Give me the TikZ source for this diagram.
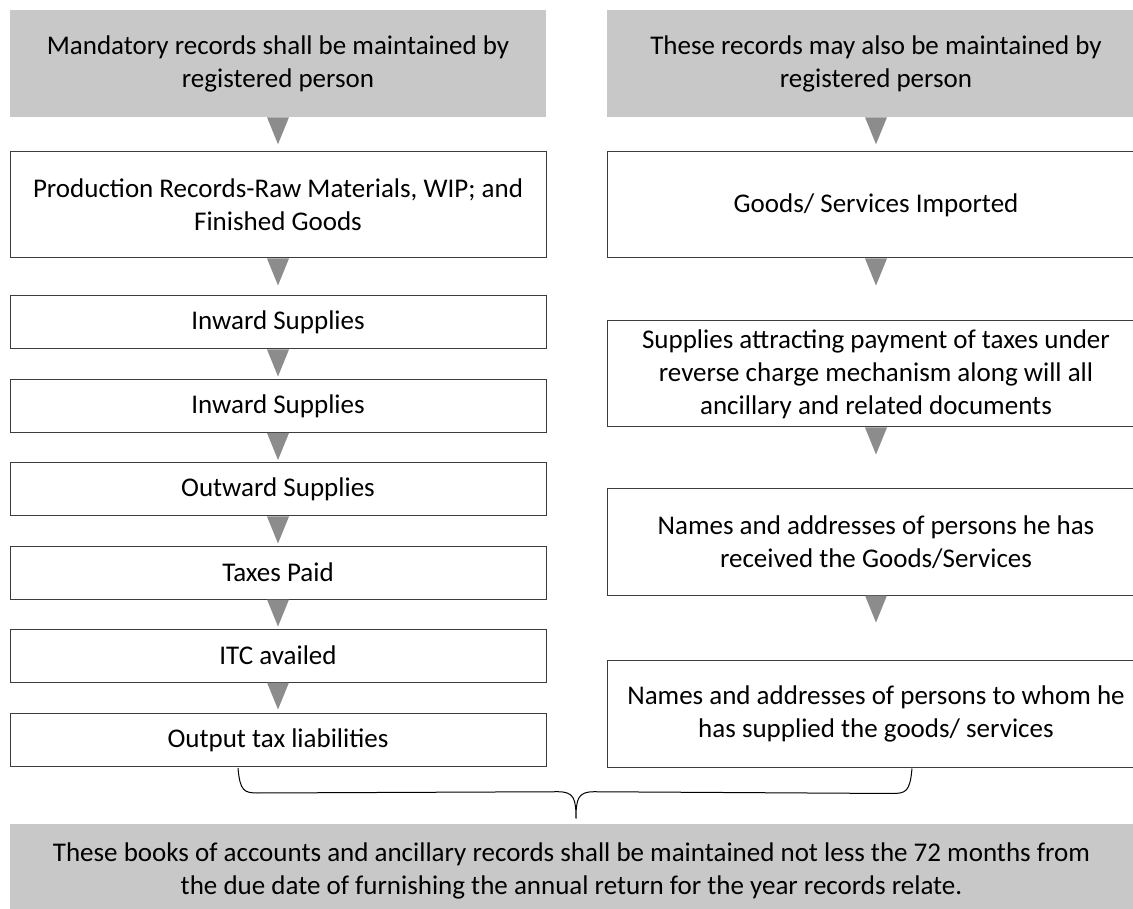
\documentclass[tikz,border=0pt]{standalone}
\usepackage{fontspec}
\setmainfont{Carlito}
\usetikzlibrary{calc}
\definecolor{hdrgray}{RGB}{200,200,200}
\definecolor{arrgray}{RGB}{140,140,140}
\definecolor{edgegray}{RGB}{60,60,60}
\newcommand{\px}{0.75pt}
% downward gray triangle below a node
\newcommand{\downtri}[1]{%
  \fill[arrgray] ($(#1.south)+(-11,0)$) -- ($(#1.south)+(11,0)$) -- ($(#1.south)+(0,27)$) -- cycle;}

\begin{document}
\begin{tikzpicture}[x=0.75pt, y=-0.75pt,
  every node/.style={font=\fontsize{20.25pt}{24.75pt}\selectfont, align=center, inner sep=0pt},
  hdr/.style={fill=hdrgray, minimum height=107*\px},
  lbox/.style={draw=edgegray, line width=\px, minimum width=536*\px},
  rbox/.style={draw=edgegray, line width=\px, minimum width=538*\px, minimum height=106*\px}]
  \clip (0,0) rectangle (1133,909);

  % --- left column ---
  \node[hdr, minimum width=536*\px] (hl) at (278,63.5) {Mandatory records shall be maintained by\\registered person};
  \node[lbox, minimum height=106*\px] (l1) at (278,205) {Production Records-Raw Materials, WIP; and\\Finished Goods};
  \node[lbox, minimum height=53*\px] (l2) at (278,322.5) {Inward Supplies};
  \node[lbox, minimum height=53*\px] (l3) at (278,406) {Inward Supplies};
  \node[lbox, minimum height=53*\px] (l4) at (278,489.5) {Outward Supplies};
  \node[lbox, minimum height=53*\px] (l5) at (278,572.5) {Taxes Paid};
  \node[lbox, minimum height=53*\px] (l6) at (278,655.5) {ITC availed};
  \node[lbox, minimum height=53*\px] (l7) at (278,740) {Output tax liabilities};

  % --- right column ---
  \node[hdr, minimum width=538*\px] (hr) at (876,63.5) {These records may also be maintained by\\registered person};
  \node[rbox] (r1) at (876,205) {Goods/ Services Imported};
  \node[rbox] (r2) at (876,374) {Supplies attracting payment of taxes under\\reverse charge mechanism along will all\\ancillary and related documents};
  \node[rbox] (r3) at (876,542) {Names and addresses of persons he has\\received the Goods/Services};
  \node[rbox, minimum height=107*\px] (r4) at (876,713.5) {Names and addresses of persons to whom he\\has supplied the goods/ services};

  % --- arrows ---
  \foreach \n in {hl,l1,l2,l3,l4,l5,l6,hr,r1,r2,r3} {
    \downtri{\n}
  }

  % --- bottom note ---
  \node[fill=hdrgray, minimum width=1123*\px, minimum height=93*\px] (bot) at (571.5,870.5)
    {These books of accounts and ancillary records shall be maintained not less the 72 months from\\the due date of furnishing the annual return for the year records relate.};

  % --- brace ---
  \coordinate (bL) at ($(l7.south)+(-40,1)$);
  \coordinate (bR) at ($(r4.south)+(36,1)$);
  \coordinate (tip) at ($(bot.north)+(4.5,-5)$);
  \draw[line width=\px] (bL) .. controls ($(bL)+(2,23)$) and ($(bL)+(6,25)$) .. ($(bL)+(20,25)$)
    -- ($(tip)+(-18,-27)$) .. controls ($(tip)+(-2,-27)$) and ($(tip)+(0,-20)$) .. (tip)
    .. controls ($(tip)+(0,-20)$) and ($(tip)+(2,-27)$) .. ($(tip)+(18,-27)$)
    -- ($(bR)+(-20,25)$) .. controls ($(bR)+(-6,25)$) and ($(bR)+(-2,23)$) .. (bR);
\end{tikzpicture}
\end{document}
